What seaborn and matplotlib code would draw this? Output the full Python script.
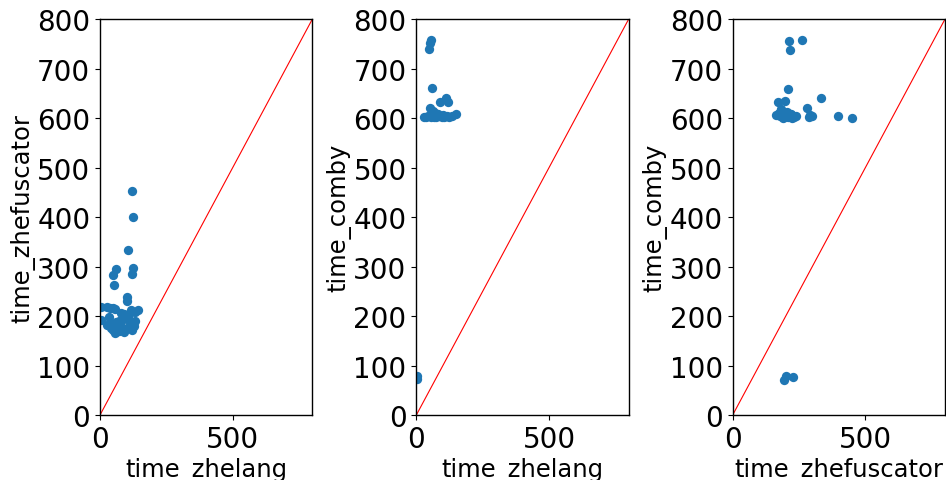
import matplotlib
matplotlib.use("Agg")
import matplotlib.pyplot as plt
import seaborn as sns
import pandas as pd

# Panel 1: time_zhelang vs time_zhefuscator
p1_x = [120, 126, 107, 60, 50, 126, 122, 54, 100, 102, 3, 25, 38, 48, 57, 143, 118, 132,
        78, 92, 108, 35, 3, 106, 112, 60, 72, 82, 132, 128, 28, 40, 50, 62, 70, 80, 90,
        100, 58, 75, 45, 120]
p1_y = [452, 400, 333, 295, 283, 298, 285, 262, 238, 230, 219, 218, 217, 216, 214, 212, 212, 208,
        207, 205, 204, 198, 192, 196, 188, 188, 190, 192, 190, 180, 182, 176, 172, 178, 170, 174, 168,
        176, 166, 182, 184, 172]

# Panel 2: time_zhelang vs time_comby
p2_x = [55, 50, 47, 59, 88, 110, 118, 53, 63, 72, 80, 30, 38, 45, 55, 65, 75, 85, 95, 105,
        115, 125, 135, 148, 100, 60, 2, 2]
p2_y = [757, 752, 740, 660, 632, 640, 633, 620, 614, 610, 608, 603, 602, 604, 602, 603, 602, 604,
        603, 602, 604, 603, 604, 608, 606, 608, 78, 73]

# Panel 3: time_zhefuscator vs time_comby
p3_x = [212, 260, 215, 209, 332, 171, 196, 282, 184, 292, 288, 397, 450, 175, 180, 190, 200,
        210, 220, 230, 240, 165, 185, 205, 225, 195, 215, 298, 192, 200, 226]
p3_y = [755, 758, 738, 658, 640, 632, 634, 621, 618, 606, 602, 605, 601, 610, 604, 600, 606,
        602, 608, 603, 605, 606, 611, 612, 600, 603, 608, 604, 70, 78, 76]

panels = [
    (p1_x, p1_y, "time_zhelang", "time_zhefuscator"),
    (p2_x, p2_y, "time_zhelang", "time_comby"),
    (p3_x, p3_y, "time_zhefuscator", "time_comby"),
]

sns.set_style("ticks")
plt.rcParams.update({
    "font.family": ["DejaVu Sans"],
    "font.size": 17.5,
    "axes.labelsize": 17.5,
    "xtick.labelsize": 20,
    "ytick.labelsize": 20,
    "axes.edgecolor": "black",
    "xtick.color": "black",
    "ytick.color": "black",
    "text.color": "black",
    "axes.labelcolor": "black",
    "axes.linewidth": 1.0,
})

fig, axes = plt.subplots(1, 3, figsize=(9.46, 4.81), dpi=100)
fig.subplots_adjust(left=0.1057, right=0.9989, bottom=0.135, top=0.958, wspace=0.49)

for ax, (xs, ys, xl, yl) in zip(axes, panels):
    df = pd.DataFrame({xl: xs, yl: ys})
    sns.scatterplot(data=df, x=xl, y=yl, ax=ax, color="#1f77b4", s=45, linewidth=0)
    sns.lineplot(x=[0, 800], y=[0, 800], ax=ax, color="red", linewidth=0.8)
    ax.set_xlim(0, 800)
    ax.set_ylim(0, 800)
    ax.set_xticks([0, 500])
    ax.set_yticks(range(0, 801, 100))
    ax.set_xlabel(xl, labelpad=3)
    ax.set_ylabel(yl, labelpad=1.5)
    for s in ax.spines.values():
        s.set_visible(True)

fig.savefig("out.png", dpi=100)
